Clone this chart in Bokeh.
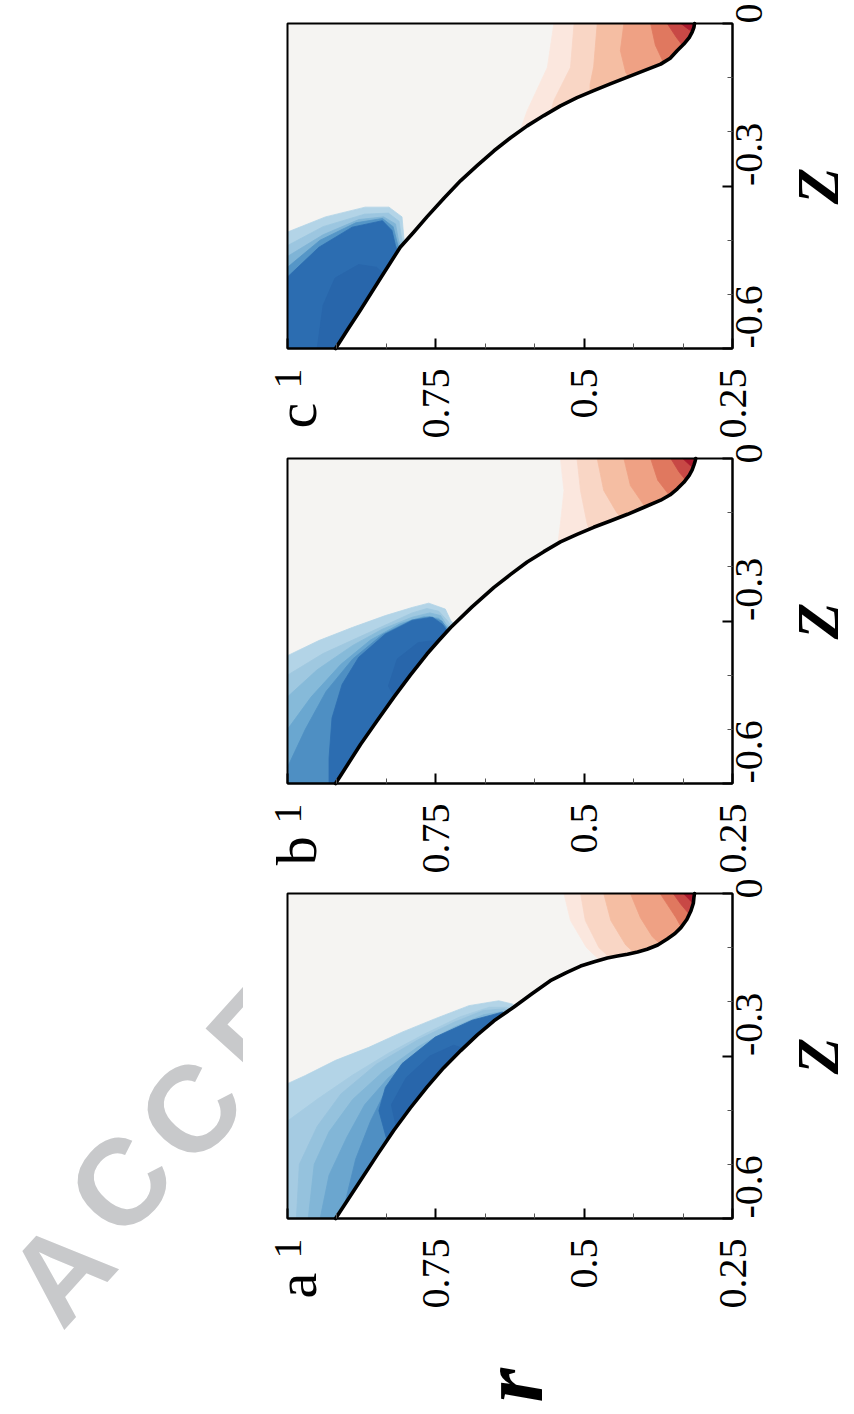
import math
from bokeh.plotting import figure
from bokeh.models import Range1d, FixedTicker, LinearAxis, Label
from bokeh.layouts import row, column
from bokeh.embed import file_html
from bokeh.resources import INLINE

# ---------------- axes ----------------
R_MIN, R_MAX = 0.25, 1.0
Z_MIN, Z_MAX = -0.6, 0.0
R_TICKS = [1.0, 0.75, 0.5, 0.25]
R_TICK_LABELS = ["1", "0.75", "0.5", "0.25"]
Z_TICKS = [0.0, -0.3, -0.6]
Z_TICK_LABELS = ["0", "-0.3", "-0.6"]
PANEL_NAMES = ["c", "b", "a"]
R_LABEL = "r"
Z_LABEL = "Z"
WATERMARK_LETTERS = ["A", "C", "C", "E"]

# ---------------- interface curves r(Z) ----------------
A_CURVE_R = [0.919, 0.898, 0.877, 0.849, 0.821, 0.793, 0.765, 0.737, 0.708, 0.680, 0.652, 0.619, 0.588,
             0.557, 0.530, 0.506, 0.483, 0.461, 0.444, 0.427, 0.410, 0.394, 0.376, 0.360, 0.347, 0.337,
             0.327, 0.320, 0.316, 0.315, 0.314]
A_CURVE_Z = [-0.600, -0.565, -0.530, -0.483, -0.4375, -0.396, -0.3575, -0.322, -0.290, -0.261, -0.235,
             -0.210, -0.185, -0.161, -0.146, -0.134, -0.126, -0.119, -0.1155, -0.112, -0.108, -0.103,
             -0.095, -0.084, -0.074, -0.063, -0.048, -0.032, -0.018, -0.007, 0.0]
B_CURVE_R = [0.919, 0.898, 0.877, 0.849, 0.821, 0.793, 0.765, 0.745, 0.725, 0.689, 0.652, 0.624, 0.596,
             0.568, 0.540, 0.512, 0.484, 0.455, 0.427, 0.399, 0.371, 0.355, 0.343, 0.332, 0.323, 0.318,
             0.315, 0.313, 0.312]
B_CURVE_Z = [-0.600, -0.564, -0.528, -0.484, -0.441, -0.400, -0.361, -0.336, -0.312, -0.274, -0.238,
             -0.214, -0.191, -0.172, -0.154, -0.140, -0.127, -0.115, -0.103, -0.090, -0.077, -0.067,
             -0.056, -0.044, -0.031, -0.021, -0.012, -0.005, 0.0]
C_CURVE_R = [0.919, 0.898, 0.877, 0.843, 0.810, 0.787, 0.765, 0.736, 0.708, 0.680, 0.652, 0.624, 0.596,
             0.568, 0.540, 0.512, 0.484, 0.455, 0.427, 0.399, 0.371, 0.355, 0.343, 0.332, 0.323, 0.318,
             0.315, 0.314]
C_CURVE_Z = [-0.600, -0.564, -0.529, -0.470, -0.413, -0.385, -0.357, -0.322, -0.290, -0.262, -0.235,
             -0.211, -0.189, -0.170, -0.152, -0.137, -0.124, -0.111, -0.099, -0.087, -0.075, -0.064,
             -0.050, -0.038, -0.026, -0.016, -0.007, 0.0]

# ---------------- blue contour levels ----------------
A_BLUE_R = [
    [1.0, 0.970, 0.919, 0.863, 0.807, 0.751, 0.694, 0.644, 0.621, 0.61],
    [1.0, 0.95, 0.89, 0.83, 0.77, 0.71, 0.66, 0.63, 0.615],
    [0.985, 0.98, 0.95, 0.91, 0.85, 0.78, 0.72, 0.67, 0.635, 0.617],
    [0.965, 0.955, 0.93, 0.89, 0.84, 0.78, 0.72, 0.67, 0.638, 0.62],
    [0.945, 0.93, 0.9, 0.87, 0.83, 0.78, 0.73, 0.68, 0.64, 0.622],
    [0.905, 0.885, 0.86, 0.835, 0.80, 0.76, 0.71, 0.66, 0.635, 0.622],
    [0.83, 0.846, 0.835, 0.807, 0.751, 0.689, 0.638, 0.62],
    [0.815, 0.825, 0.80, 0.76, 0.72, 0.70],
]
A_BLUE_Z = [
    [-0.351, -0.336, -0.308, -0.284, -0.256, -0.231, -0.207, -0.198, -0.204, -0.215],
    [-0.42, -0.38, -0.335, -0.295, -0.26, -0.228, -0.21, -0.21, -0.22],
    [-0.6, -0.5, -0.43, -0.37, -0.315, -0.27, -0.238, -0.216, -0.213, -0.222],
    [-0.6, -0.5, -0.44, -0.38, -0.33, -0.283, -0.247, -0.224, -0.218, -0.225],
    [-0.6, -0.52, -0.45, -0.39, -0.34, -0.298, -0.262, -0.234, -0.222, -0.228],
    [-0.58, -0.49, -0.42, -0.365, -0.318, -0.28, -0.25, -0.229, -0.222, -0.23],
    [-0.465, -0.401, -0.358, -0.314, -0.265, -0.234, -0.219, -0.23],
    [-0.44, -0.39, -0.34, -0.30, -0.28, -0.287],
]
A_BLUE_COLORS = ["#b3d4e7", "#a5cbe2", "#95c2dd", "#82b6d7", "#6ba6cf", "#4f8fc3", "#2d6eb1", "#2866ab"]

B_BLUE_R = [
    [1.0, 0.947, 0.891, 0.835, 0.790, 0.762, 0.734, 0.725, 0.715],
    [1.0, 0.94, 0.88, 0.83, 0.79, 0.765, 0.745, 0.73, 0.72],
    [1.0, 0.95, 0.89, 0.84, 0.79, 0.76, 0.742, 0.733, 0.722],
    [1.0, 0.96, 0.91, 0.86, 0.81, 0.77, 0.745, 0.735, 0.724],
    [1.0, 0.97, 0.935, 0.89, 0.84, 0.79, 0.76, 0.74, 0.728],
    [0.93, 0.930, 0.925, 0.908, 0.880, 0.835, 0.790, 0.756, 0.739, 0.728],
    [0.805, 0.83, 0.815, 0.78, 0.745],
]
B_BLUE_Z = [
    [-0.364, -0.336, -0.312, -0.290, -0.275, -0.267, -0.278, -0.299, -0.31],
    [-0.40, -0.36, -0.33, -0.305, -0.285, -0.277, -0.282, -0.30, -0.315],
    [-0.44, -0.39, -0.345, -0.315, -0.293, -0.285, -0.29, -0.305, -0.318],
    [-0.50, -0.44, -0.38, -0.335, -0.305, -0.292, -0.295, -0.307, -0.32],
    [-0.57, -0.50, -0.43, -0.37, -0.325, -0.298, -0.292, -0.30, -0.32],
    [-0.6, -0.553, -0.479, -0.417, -0.367, -0.324, -0.299, -0.293, -0.306, -0.322],
    [-0.47, -0.42, -0.37, -0.34, -0.335],
]
B_BLUE_COLORS = ["#b3d4e7", "#9fc8e0", "#86bad9", "#6aa7d0", "#4e8fc3", "#2c6db1", "#2866ab"]

C_BLUE_R = [
    [1.0, 0.936, 0.869, 0.829, 0.807, 0.804, 0.80],
    [1.0, 0.94, 0.87, 0.83, 0.812, 0.808, 0.802],
    [1.0, 0.94, 0.88, 0.838, 0.818, 0.813, 0.805],
    [1.0, 0.945, 0.885, 0.84, 0.822, 0.815, 0.808],
    [1.0, 0.947, 0.891, 0.840, 0.824, 0.818, 0.81],
    [0.95, 0.94, 0.92, 0.88, 0.85, 0.83],
]
C_BLUE_Z = [
    [-0.385, -0.357, -0.339, -0.339, -0.357, -0.394, -0.42],
    [-0.41, -0.375, -0.352, -0.350, -0.365, -0.395, -0.42],
    [-0.43, -0.39, -0.362, -0.357, -0.37, -0.40, -0.425],
    [-0.45, -0.40, -0.368, -0.36, -0.375, -0.405, -0.43],
    [-0.468, -0.413, -0.376, -0.364, -0.382, -0.41, -0.435],
    [-0.6, -0.52, -0.47, -0.445, -0.45, -0.47],
]
C_BLUE_COLORS = ["#b3d4e7", "#9cc6e0", "#7fb4d6", "#5596c7", "#2c6db1", "#2866ab"]

# ---------------- red contour levels ----------------
A_RED_R = [
    [0.534, 0.523, 0.496, 0.47],
    [0.506, 0.498, 0.475, 0.455],
    [0.467, 0.455, 0.43, 0.415],
    [0.422, 0.405, 0.385, 0.37],
    [0.372, 0.36, 0.345, 0.335],
    [0.350, 0.337, 0.32],
    [0.333, 0.322, 0.315],
]
A_RED_Z = [
    [0.0, -0.05, -0.10, -0.127],
    [0.0, -0.05, -0.10, -0.12],
    [0.0, -0.05, -0.095, -0.11],
    [0.0, -0.045, -0.08, -0.095],
    [0.0, -0.02, -0.045, -0.065],
    [0.0, -0.02, -0.042],
    [0.0, -0.012, -0.02],
]
B_RED_R = [
    [0.540, 0.534, 0.54, 0.545],
    [0.512, 0.506, 0.495, 0.49],
    [0.478, 0.467, 0.445, 0.435],
    [0.433, 0.422, 0.40, 0.39],
    [0.388, 0.376, 0.355],
    [0.354, 0.34, 0.325],
    [0.334, 0.322, 0.312],
]
B_RED_Z = [
    [0.0, -0.059, -0.12, -0.165],
    [0.0, -0.06, -0.12, -0.135],
    [0.0, -0.059, -0.10, -0.112],
    [0.0, -0.05, -0.085, -0.095],
    [0.0, -0.04, -0.07],
    [0.0, -0.025, -0.045],
    [0.0, -0.012, -0.02],
]
C_RED_R = [
    [0.551, 0.562, 0.596, 0.612],
    [0.517, 0.523, 0.551, 0.558],
    [0.478, 0.484, 0.49, 0.49],
    [0.433, 0.439, 0.43, 0.42],
    [0.388, 0.38, 0.365],
    [0.36, 0.345, 0.33],
    [0.337, 0.325, 0.313],
]
C_RED_Z = [
    [0.0, -0.081, -0.161, -0.21],
    [0.0, -0.081, -0.142, -0.17],
    [0.0, -0.08, -0.112, -0.135],
    [0.0, -0.05, -0.09, -0.105],
    [0.0, -0.04, -0.075],
    [0.0, -0.025, -0.047],
    [0.0, -0.01, -0.018],
]
RED_COLORS = ["#fbe7de", "#f9d6c5", "#f5bea3", "#efa184", "#e0785f", "#c84845", "#aa1a2e"]

NEUTRAL = "#f5f4f2"
SERIF = "Liberation Serif, DejaVu Serif, serif"

# layout (pixels)
FRAME_W, FRAME_H = 445, 325
PAD_LEFT, PAD_RIGHT = 44, 120
WM_W = 243
PX_R = FRAME_W / (R_MAX - R_MIN)
PX_Z = FRAME_H / (Z_MAX - Z_MIN)
# watermark letter centres (page pixels)
WM_X = [60, 120, 190, 258]
WM_Y = [1271, 1183, 1110, 1032]


def band_poly(rs, zs, corner_z):
    """Close a contour level against the solid side (covered later in white)."""
    xs = list(rs) + [R_MIN, R_MIN]
    ys = list(zs) + [zs[-1], corner_z]
    if rs[0] >= R_MAX:
        xs.append(R_MAX)
        ys.append(corner_z)
    return xs, ys


def minor_between(ticks):
    out = []
    s = sorted(ticks)
    for lo, hi in zip(s[:-1], s[1:]):
        step = (hi - lo) / 3.0
        out += [lo + step, lo + 2 * step]
    return out


def make_panel(name, curve_r, curve_z, blue_r, blue_z, blue_c, red_r, red_z, pad_top, fig_h):
    pad_bottom = fig_h - pad_top - FRAME_H
    fig_w = PAD_LEFT + FRAME_W + PAD_RIGHT
    x_end = R_MIN - PAD_RIGHT / PX_R
    p = figure(x_range=Range1d(R_MAX + PAD_LEFT / PX_R, x_end),
               y_range=Range1d(Z_MIN - pad_bottom / PX_Z, Z_MAX + pad_top / PX_Z),
               frame_width=fig_w, frame_height=fig_h, min_border=0,
               x_axis_location=None, y_axis_location=None,
               toolbar_location=None, output_backend="svg",
               background_fill_color="white", border_fill_color="white",
               outline_line_color=None)
    p.grid.visible = False

    common = dict(major_label_text_font=SERIF, major_label_text_font_size="40px",
                  major_label_text_color="black", major_label_orientation=math.pi / 2,
                  axis_line_color="black", axis_line_width=2,
                  major_tick_in=10, major_tick_out=0, major_tick_line_width=2,
                  minor_tick_in=5, minor_tick_out=0, minor_tick_line_color="#555555")
    xa = LinearAxis(ticker=FixedTicker(ticks=R_TICKS, minor_ticks=minor_between(R_TICKS)),
                    major_label_overrides={float(t): s for t, s in zip(R_TICKS, R_TICK_LABELS)},
                    fixed_location=Z_MIN, bounds=(R_MIN, R_MAX), major_label_standoff=20, **common)
    ya = LinearAxis(ticker=FixedTicker(ticks=Z_TICKS, minor_ticks=minor_between(Z_TICKS)),
                    major_label_overrides={float(t): s for t, s in zip(Z_TICKS, Z_TICK_LABELS)},
                    fixed_location=R_MIN, bounds=(Z_MIN, Z_MAX), major_label_standoff=16, **common)
    p.add_layout(xa, "below")
    p.add_layout(ya, "right")

    # fluid region (neutral) above the interface
    p.patch(list(curve_r) + [R_MAX, R_MAX], list(curve_z) + [Z_MAX, Z_MIN],
            fill_color=NEUTRAL, line_color=NEUTRAL, line_width=0.5)

    xs, ys = [], []
    for rs, zs in zip(blue_r, blue_z):
        a, b = band_poly(rs, zs, Z_MIN)
        xs.append(a); ys.append(b)
    p.patches(xs, ys, fill_color=blue_c, line_color=blue_c, line_width=0.8)

    xs, ys = [], []
    for rs, zs in zip(red_r, red_z):
        a, b = band_poly(rs, zs, Z_MAX)
        xs.append(a); ys.append(b)
    p.patches(xs, ys, fill_color=RED_COLORS[:len(xs)], line_color=RED_COLORS[:len(xs)], line_width=0.8)

    # solid region (white) below the interface
    p.patch(list(curve_r) + [R_MIN, R_MIN], list(curve_z) + [Z_MAX, Z_MIN],
            fill_color="white", line_color=None)
    p.line(curve_r, curve_z, line_color="black", line_width=3.6, line_join="round", line_cap="round")

    # panel box
    p.quad(left=[R_MAX], right=[R_MIN], bottom=[Z_MIN], top=[Z_MAX],
           fill_color=None, line_color="black", line_width=2)

    p.add_layout(Label(x=0.985, y=-0.724, text=name, angle=math.pi / 2,
                       text_font=SERIF, text_font_size="58px", text_color="black",
                       text_align="center", text_baseline="middle"))
    p.add_layout(Label(x=x_end + 1.5 / PX_R, y=-0.30, text=Z_LABEL, angle=math.pi / 2,
                       text_font=SERIF, text_font_style="bold italic", text_font_size="60px",
                       text_color="black", text_align="center", text_baseline="bottom"))
    return p


pc = make_panel(PANEL_NAMES[0], C_CURVE_R, C_CURVE_Z, C_BLUE_R, C_BLUE_Z, C_BLUE_COLORS, C_RED_R, C_RED_Z, 23, 443)
pb = make_panel(PANEL_NAMES[1], B_CURVE_R, B_CURVE_Z, B_BLUE_R, B_BLUE_Z, B_BLUE_COLORS, B_RED_R, B_RED_Z, 15, 435)
pa = make_panel(PANEL_NAMES[2], A_CURVE_R, A_CURVE_Z, A_BLUE_R, A_BLUE_Z, A_BLUE_COLORS, A_RED_R, A_RED_Z, 15, 528)
pa.add_layout(Label(x=0.62, y=-0.908, text=R_LABEL, angle=math.pi / 2,
                    text_font=SERIF, text_font_style="bold italic", text_font_size="88px",
                    text_color="black", text_align="center", text_baseline="middle"))

# watermark strip on the left
WM_H = 443 + 435 + 528
wm = figure(width=WM_W, height=WM_H, x_range=Range1d(0, WM_W), y_range=Range1d(0, WM_H),
            x_axis_location=None, y_axis_location=None, toolbar_location=None,
            output_backend="svg", outline_line_color=None, min_border=0,
            border_fill_color="white", background_fill_color="white")
wm.grid.visible = False
for ch, cx, cy in zip(WATERMARK_LETTERS, WM_X, WM_Y):
    wm.add_layout(Label(x=cx, y=WM_H - cy, text=ch, angle=math.radians(48),
                        text_font="Liberation Sans", text_font_style="bold",
                        text_font_size="122px", text_color="#c8c9cb",
                        text_align="center", text_baseline="middle"))

layout = row(wm, column(pc, pb, pa, spacing=0), spacing=0)

open("out.html", "w").write(file_html(layout, INLINE))
